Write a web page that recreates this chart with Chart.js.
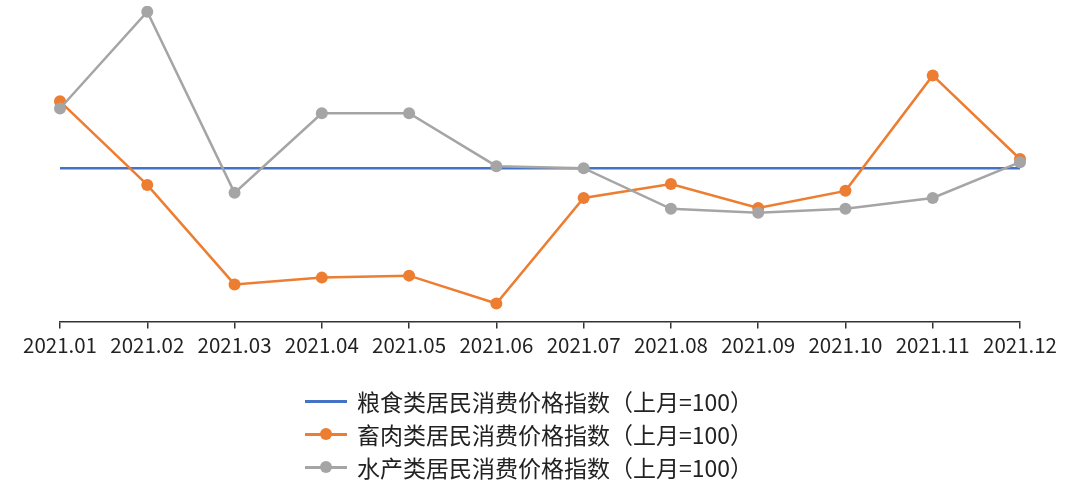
<!DOCTYPE html>
<html>
<head>
<meta charset="utf-8">
<script src="https://cdn.jsdelivr.net/npm/chart.js@4.4.0/dist/chart.umd.min.js"></script>
<style>
  html, body { margin: 0; padding: 0; background: #fff; }
  #wrap { position: relative; width: 1080px; height: 494px; }
  #chart { position: absolute; left: 0; top: 0; }
  #legend { position: absolute; left: 305px; top: 384px; font-family: "Noto Sans CJK SC", sans-serif; font-size: 23px; color: #222; }
  .item { height: 33px; display: flex; align-items: center; }
  .mark { position: relative; width: 42px; height: 14px; margin-right: 10px; }
  .mark .ln { position: absolute; left: 0; right: 0; top: 6px; height: 3px; }
  .mark .dot { position: absolute; left: 15px; top: 1px; width: 12px; height: 12px; border-radius: 50%; }
</style>
</head>
<body>
<div id="wrap">
  <canvas id="chart" width="1080" height="494"></canvas>
  <div id="legend"></div>
</div>
<script>
const months = ['2021.01', '2021.02', '2021.03', '2021.04', '2021.05', '2021.06',
  '2021.07', '2021.08', '2021.09', '2021.10', '2021.11', '2021.12'];

const grain = [100, 100, 100, 100, 100, 100, 100, 100, 100, 100, 100, 100];
const meat = [101.68, 99.58, 97.08, 97.25, 97.3, 96.6, 99.25, 99.6, 99.0, 99.43, 102.33, 100.23];
const aquatic = [101.5, 103.93, 99.38, 101.38, 101.38, 100.05, 100.0, 98.98, 98.88, 98.98, 99.25, 100.15];

const names = [
  '粮食类居民消费价格指数（上月=100）',
  '畜肉类居民消费价格指数（上月=100）',
  '水产类居民消费价格指数（上月=100）'
];
const colors = ['#4472C4', '#ED7D31', '#A5A5A5'];

const ctx = document.getElementById('chart').getContext('2d');

new Chart(ctx, {
  type: 'line',
  data: {
    labels: months,
    datasets: [
      { label: names[0], data: grain, borderColor: colors[0], borderWidth: 2.5, pointRadius: 0, order: 3 },
      { label: names[1], data: meat, borderColor: colors[1], backgroundColor: colors[1], borderWidth: 2.5,
        pointRadius: 6, pointBorderWidth: 0, order: 2 },
      { label: names[2], data: aquatic, borderColor: colors[2], backgroundColor: colors[2], borderWidth: 2.5,
        pointRadius: 6, pointBorderWidth: 0, order: 1 }
    ]
  },
  options: {
    responsive: false,
    animation: false,
    layout: { padding: { left: 60, right: 60, top: 4, bottom: 131 } },
    plugins: {
      legend: { display: false },
      tooltip: { enabled: false }
    },
    scales: {
      x: {
        grid: { drawOnChartArea: false, drawTicks: true, tickLength: 7, color: '#333', lineWidth: 1.5 },
        border: { color: '#333', width: 1.5 },
        ticks: {
          color: '#222',
          font: { family: 'Noto Sans CJK SC', size: 20.5 },
          padding: 5,
          maxRotation: 0,
          autoSkip: false
        }
      },
      y: {
        display: false,
        min: 96.15,
        max: 104.075
      }
    }
  }
});

const legend = document.getElementById('legend');
names.forEach((n, i) => {
  const item = document.createElement('div');
  item.className = 'item';
  const dot = i > 0 ? `<span class="dot" style="background:${colors[i]}"></span>` : '';
  item.innerHTML = `<span class="mark"><span class="ln" style="background:${colors[i]}"></span>${dot}</span><span>${n}</span>`;
  legend.appendChild(item);
});
</script>
</body>
</html>
